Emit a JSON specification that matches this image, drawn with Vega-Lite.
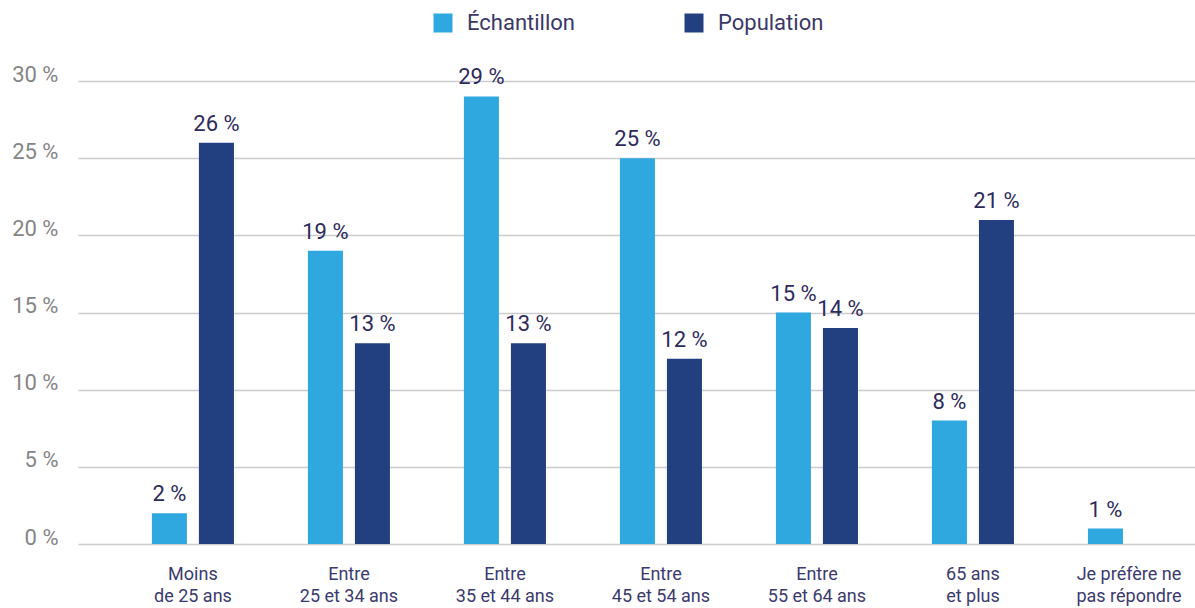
{
  "$schema": "https://vega.github.io/schema/vega-lite/v6.json",
  "width": 1117,
  "height": 463,
  "autosize": {"type": "none"},
  "padding": {"left": 78, "top": 81, "right": 0, "bottom": 64},
  "background": "white",
  "config": {"view": {"stroke": null}, "font": "Roboto"},
  "data": {
    "values": [
      {"category": "Moins|de 25 ans", "series": "Échantillon", "value": 2},
      {"category": "Moins|de 25 ans", "series": "Population", "value": 26},
      {"category": "Entre|25 et 34 ans", "series": "Échantillon", "value": 19},
      {"category": "Entre|25 et 34 ans", "series": "Population", "value": 13},
      {"category": "Entre|35 et 44 ans", "series": "Échantillon", "value": 29},
      {"category": "Entre|35 et 44 ans", "series": "Population", "value": 13},
      {"category": "Entre|45 et 54 ans", "series": "Échantillon", "value": 25},
      {"category": "Entre|45 et 54 ans", "series": "Population", "value": 12},
      {"category": "Entre|55 et 64 ans", "series": "Échantillon", "value": 15},
      {"category": "Entre|55 et 64 ans", "series": "Population", "value": 14},
      {"category": "65 ans|et plus", "series": "Échantillon", "value": 8},
      {"category": "65 ans|et plus", "series": "Population", "value": 21},
      {"category": "Je préfère ne|pas répondre", "series": "Échantillon", "value": 1}
    ]
  },
  "transform": [{"calculate": "datum.value + ' %'", "as": "label"}],
  "encoding": {
    "x": {
      "field": "category",
      "type": "nominal",
      "sort": null,
      "scale": {"paddingInner": 0.474, "paddingOuter": 0.317, "align": 0.747},
      "axis": {
        "title": null,
        "domain": false,
        "ticks": false,
        "labelAngle": 0,
        "labelExpr": "split(datum.label, '|')",
        "labelFontSize": 18,
        "labelColor": "#3b3a6e",
        "labelPadding": 21,
        "labelLineHeight": 22,
        "labelBaseline": "top"
      }
    },
    "xOffset": {
      "field": "series",
      "type": "nominal",
      "sort": ["Échantillon", "Population"],
      "scale": {"paddingInner": 0.255}
    },
    "y": {
      "field": "value",
      "type": "quantitative",
      "scale": {"domain": [0, 30]},
      "axis": {
        "title": null,
        "values": [0, 5, 10, 15, 20, 25, 30],
        "labelExpr": "datum.value + ' %'",
        "domain": false,
        "ticks": false,
        "labelPadding": 20,
        "labelFontSize": 22,
        "labelColor": "#858585",
        "labelBaseline": "alphabetic",
        "gridColor": "#cccccc",
        "gridWidth": 1.5
      }
    }
  },
  "layer": [
    {
      "mark": {"type": "bar"},
      "encoding": {
        "color": {
          "field": "series",
          "type": "nominal",
          "scale": {"domain": ["Échantillon", "Population"], "range": ["#2ea8df", "#22407f"]},
          "legend": {
            "title": null,
            "orient": "none",
            "direction": "horizontal",
            "legendX": 354,
            "legendY": -69,
            "symbolType": "square",
            "symbolSize": 361,
            "symbolStrokeWidth": 0,
            "symbolOpacity": 1,
            "labelFontSize": 22,
            "labelColor": "#3b3868",
            "labelOffset": 13,
            "columnPadding": 108
          }
        }
      }
    },
    {
      "mark": {"type": "text", "baseline": "alphabetic", "dy": -12, "fontSize": 22, "color": "#2d2a5c"},
      "encoding": {"text": {"field": "label"}}
    }
  ]
}
